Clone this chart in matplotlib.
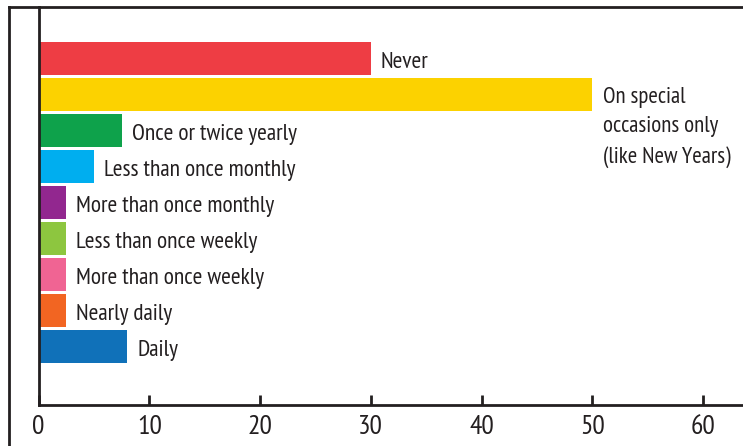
import matplotlib
matplotlib.use("Agg")
import matplotlib.pyplot as plt
from matplotlib.lines import Line2D

categories = ["Never", "On special\noccasions only\n(like New Years)", "Once or twice yearly",
              "Less than once monthly", "More than once monthly", "Less than once weekly",
              "More than once weekly", "Nearly daily", "Daily"]
values = [30, 50, 7.5, 5, 2.5, 2.5, 2.5, 2.5, 8]
colors = ["#ee3d44", "#fcd200", "#0ea24b", "#00aeef", "#92278f", "#8dc63f",
          "#f06493", "#f26522", "#1071b9"]
xticks = [0, 10, 20, 30, 40, 50, 60]

plt.rcParams['font.family'] = ['PT Sans Narrow', 'Roboto Condensed', 'Archivo Narrow',
                               'Liberation Sans', 'DejaVu Sans']
ink = "#231f20"

fig = plt.figure(figsize=(7.43, 4.46), dpi=100)
W, H = 743, 446
ax = fig.add_axes([38.5 / W, 1 - 405 / H, 1 - 38.5 / W, (405 - 7) / H])

ypos = list(range(len(categories)))
ax.barh(ypos, values, height=0.92, color=colors, zorder=2)

for i, (v, c) in enumerate(zip(values, categories)):
    if "\n" in c:
        ax.text(v + 1.0, i - 0.22, c, va='top', ha='left', fontsize=16.5,
                color=ink, linespacing=1.55)
    else:
        ax.text(v + 0.9, i + 0.1, c, va='center', ha='left', fontsize=16.8, color=ink)

ax.set_xlim(0, 63.6)
ax.set_ylim(9.625, -1.43)
ax.set_xticks(xticks)
ax.set_xticklabels([str(t) for t in xticks], fontsize=20, color=ink)
ax.set_yticks([])
ax.tick_params(axis='x', direction='in', length=7, width=2, color=ink, pad=7.5)
for s in ['top', 'right']:
    ax.spines[s].set_visible(False)
for s in ['left', 'bottom']:
    ax.spines[s].set_linewidth(2)
    ax.spines[s].set_color(ink)

# outer frame
fig.add_artist(Line2D([9 / W, 9 / W], [0, 1 - 7 / H], transform=fig.transFigure,
                      color=ink, lw=2))
fig.add_artist(Line2D([9 / W, 1], [1 - 7 / H, 1 - 7 / H], transform=fig.transFigure,
                      color=ink, lw=2))

fig.savefig("out.png", dpi=100)
